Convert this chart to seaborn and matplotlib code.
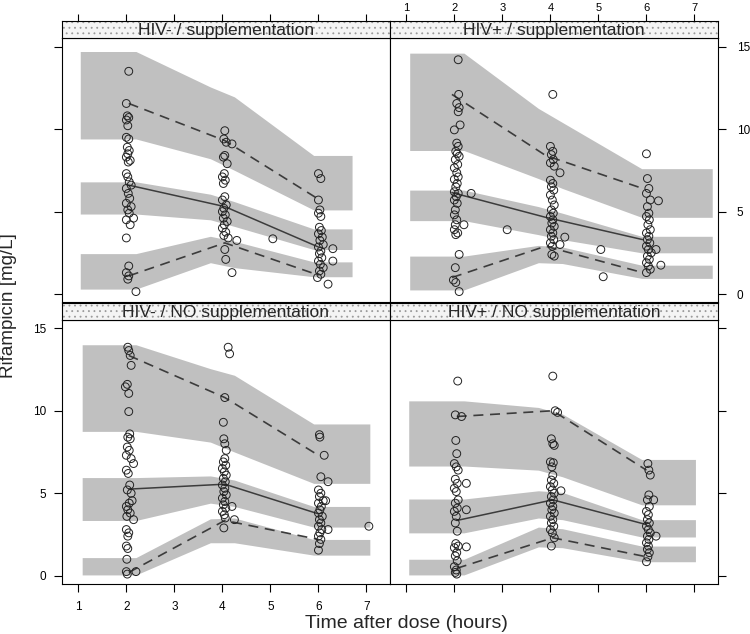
import numpy as np
import pandas as pd
import matplotlib
matplotlib.use("Agg")
import matplotlib.pyplot as plt
import seaborn as sns
from matplotlib.patches import Rectangle

sns.set_style("ticks")
plt.rcParams['font.family'] = ['Liberation Sans', 'DejaVu Sans']
plt.rcParams['hatch.linewidth'] = 0.6

titles = ["HIV- / supplementation", "HIV+ / supplementation",
          "HIV- / NO supplementation", "HIV+ / NO supplementation"]

# ---- observed concentrations (time after dose, rifampicin mg/L) ----
a_time = [2.05, 2.00, 2.02, 2.05, 2.00, 2.03, 2.00, 2.05, 2.02, 2.06,
          2.03, 2.00, 2.08, 2.04, 2.00, 2.03, 2.06, 2.10, 2.00, 2.04,
          2.07, 2.00, 2.10, 2.03, 2.06, 2.15, 2.00, 2.08, 2.00, 2.05,
          2.00, 2.05, 2.03, 2.20,
          4.05, 4.03, 4.08, 4.20, 4.05, 4.02, 4.10, 4.04, 4.00, 4.06,
          4.02, 4.05, 4.00, 4.08, 4.03, 4.00, 4.06, 4.02, 4.10, 4.04,
          4.00, 4.07, 4.03, 4.12, 4.30, 4.05, 4.07, 4.20, 5.05,
          6.00, 6.05, 6.00, 6.03, 6.00, 6.05, 6.02, 6.06, 6.00, 6.08,
          6.03, 6.10, 6.00, 6.05, 6.02, 6.07, 6.00, 6.04, 6.10, 6.02,
          6.05, 5.98, 6.20, 6.30, 6.30]
a_conc = [13.5, 11.55, 10.8, 10.7, 10.55, 10.2, 9.5, 9.4, 8.9, 8.7,
          8.5, 8.3, 8.1, 8.0, 7.3, 7.1, 6.8, 6.6, 6.4, 6.1,
          5.8, 5.5, 5.3, 5.1, 4.9, 4.6, 4.5, 4.2, 3.4, 1.7,
          1.3, 1.1, 0.9, 0.15,
          9.9, 9.4, 9.2, 9.1, 8.4, 8.3, 7.9, 7.3, 7.1, 6.9,
          6.7, 5.9, 5.7, 5.4, 5.2, 5.0, 4.8, 4.6, 4.4, 4.2,
          4.0, 3.75, 3.55, 3.4, 3.25, 2.7, 2.1, 1.3, 3.35,
          7.3, 7.0, 5.7, 5.1, 4.9, 4.7, 4.05, 3.85, 3.65, 3.45,
          3.25, 3.0, 2.85, 2.6, 2.45, 2.2, 2.0, 1.8, 1.6, 1.4,
          1.2, 1.0, 0.6, 2.75, 2.0]

b_time = [2.08, 2.09, 2.05, 2.10, 2.08, 2.12, 2.00, 2.05, 2.08, 2.03,
          2.06, 2.10, 2.02, 2.07, 2.00, 2.05, 2.08, 2.00, 2.06, 2.03,
          2.00, 2.08, 2.04, 2.00, 2.06, 2.02, 2.00, 2.05, 2.02, 2.00,
          2.07, 2.03, 2.10, 2.02, 1.98, 2.03, 2.10, 2.35, 2.20,
          4.05, 4.00, 4.05, 4.02, 4.06, 4.00, 4.08, 4.20, 4.00, 4.05,
          4.02, 4.07, 4.00, 4.04, 4.08, 4.02, 4.06, 4.00, 4.05, 4.03,
          4.08, 4.00, 4.05, 4.02, 4.07, 4.00, 4.04, 4.03, 4.08, 4.30,
          4.20, 3.10, 5.05, 5.10,
          6.00, 6.02, 6.05, 6.00, 6.08, 6.02, 6.05, 6.00, 6.06, 6.03,
          6.08, 6.00, 6.05, 6.02, 6.07, 6.00, 6.04, 6.10, 6.02, 6.06,
          6.00, 6.04, 6.08, 6.00, 6.25, 6.30, 6.20]
b_conc = [14.2, 12.1, 11.55, 11.3, 11.05, 10.25, 9.95, 9.15, 8.95, 8.65,
          8.5, 8.35, 8.15, 7.85, 7.65, 7.35, 7.1, 6.95, 6.7, 6.5,
          6.2, 6.1, 5.9, 5.7, 5.5, 5.1, 4.8, 4.5, 4.2, 3.9,
          3.7, 3.6, 2.4, 1.6, 0.85, 0.7, 0.15, 6.1, 4.2,
          12.1, 8.95, 8.65, 8.45, 8.15, 7.95, 7.75, 7.35, 6.9, 6.7,
          6.5, 6.3, 6.0, 5.7, 5.4, 5.1, 4.9, 4.7, 4.5, 4.3,
          4.1, 3.9, 3.7, 3.5, 3.3, 3.1, 2.9, 2.4, 2.3, 3.45,
          3.0, 3.9, 2.7, 1.05,
          8.5, 7.0, 6.4, 6.1, 5.7, 5.3, 4.9, 4.7, 4.5, 4.2,
          3.9, 3.7, 3.5, 3.3, 3.1, 2.9, 2.7, 2.5, 2.3, 2.1,
          1.9, 1.7, 1.5, 1.3, 5.65, 1.75, 2.7]

c_time = [2.03, 2.05, 2.08, 2.10, 2.02, 1.98, 2.05, 2.05, 2.07, 2.03,
          2.08, 2.02, 2.06, 2.00, 2.10, 2.15, 2.00, 2.04, 2.07, 2.02,
          2.10, 2.12, 2.06, 2.00, 2.03, 2.08, 2.01, 2.15, 2.00, 2.05,
          2.03, 2.00, 2.03, 2.01, 2.00, 2.02, 2.20,
          4.12, 4.15, 4.05, 4.02, 4.03, 4.05, 4.08, 4.05, 4.02, 4.07,
          4.00, 4.04, 4.08, 4.02, 4.06, 4.00, 4.05, 4.03, 4.08, 4.00,
          4.05, 4.02, 4.07, 4.00, 4.04, 4.06, 4.03, 4.20, 4.25,
          6.02, 6.03, 6.12, 6.05, 6.20, 6.00, 6.05, 6.02, 6.15, 6.00,
          6.06, 6.03, 6.00, 6.08, 6.02, 6.05, 6.00, 6.07, 6.03, 6.00,
          6.05, 6.02, 6.00, 6.20, 6.10, 7.05]
c_conc = [13.85, 13.65, 13.35, 12.75, 11.6, 11.45, 11.05, 9.95, 8.6, 8.4,
          8.3, 7.8, 7.6, 7.3, 7.1, 6.8, 6.4, 6.2, 5.5, 5.2,
          5.0, 4.55, 4.4, 4.2, 4.0, 3.8, 3.6, 3.4, 2.8, 2.6,
          2.4, 1.8, 1.65, 1.0, 0.25, 0.1, 0.25,
          13.85, 13.45, 10.8, 9.3, 8.3, 8.0, 7.6, 7.1, 6.9, 6.7,
          6.5, 6.3, 6.1, 5.9, 5.7, 5.5, 5.3, 5.1, 4.9, 4.7,
          4.5, 4.3, 4.1, 3.9, 3.7, 3.5, 2.9, 4.2, 3.4,
          8.55, 8.4, 7.3, 6.0, 5.7, 5.2, 5.0, 4.8, 4.55, 4.4,
          4.2, 4.0, 3.8, 3.6, 3.4, 3.2, 3.0, 2.8, 2.6, 2.4,
          2.2, 1.95, 1.55, 2.8, 4.55, 3.0]

d_time = [2.07, 2.02, 2.15, 2.03, 2.05, 2.00, 2.04, 2.08, 2.02, 2.06,
          2.00, 2.04, 2.08, 2.02, 2.06, 2.00, 2.04, 2.02, 2.06, 2.03,
          2.08, 2.00, 2.05, 2.02, 2.06, 2.00, 2.04, 2.02, 2.05, 2.25,
          2.25, 2.25,
          4.05, 4.10, 4.15, 4.02, 4.05, 4.08, 4.00, 4.06, 4.03, 4.05,
          4.02, 4.07, 4.00, 4.04, 4.08, 4.02, 4.06, 4.00, 4.05, 4.03,
          4.08, 4.00, 4.05, 4.02, 4.07, 4.00, 4.04, 4.08, 4.02, 4.22,
          6.03, 6.05, 6.08, 6.05, 6.02, 6.06, 6.00, 6.04, 6.02, 6.06,
          6.00, 6.04, 6.08, 6.02, 6.05, 6.00, 6.04, 6.02, 6.06, 6.03,
          6.00, 6.20, 6.15]
d_conc = [11.8, 9.75, 9.65, 8.2, 7.4, 6.8, 6.6, 6.4, 5.85, 5.6,
          5.3, 5.1, 4.6, 4.4, 4.1, 3.9, 3.6, 3.2, 2.7, 1.95,
          1.8, 1.7, 1.4, 1.2, 0.9, 0.55, 0.35, 0.2, 0.1, 5.6,
          4.0, 1.75,
          12.1, 10.0, 9.9, 8.3, 8.0, 7.9, 6.9, 6.85, 6.6, 6.1,
          5.8, 5.6, 5.4, 5.2, 5.0, 4.8, 4.6, 4.4, 4.2, 4.0,
          3.8, 3.6, 3.4, 3.2, 3.0, 2.8, 2.6, 2.3, 1.8, 5.15,
          6.8, 6.4, 6.1, 4.9, 4.6, 4.2, 3.9, 3.7, 3.4, 3.2,
          3.0, 2.8, 2.6, 2.4, 2.2, 2.0, 1.8, 1.6, 1.4, 1.15,
          0.85, 2.4, 4.6]

# ---- simulated prediction intervals (lower, upper) at band_x ----
band_x = [2.2, 3.75, 4.25, 5.9]
a_bands = {"hi": ([9.4, 8.2, 7.5, 5.1], [14.7, 12.55, 11.95, 8.4]),
           "med": ([4.85, 4.5, 4.1, 2.7], [6.8, 6.05, 5.6, 3.95]),
           "lo": ([0.3, 1.9, 1.6, 1.05], [2.45, 3.5, 3.2, 1.95])}
b_bands = {"hi": ([8.7, 7.0, 6.4, 4.65], [14.6, 11.25, 10.4, 7.6]),
           "med": ([4.45, 3.6, 3.3, 2.5], [6.3, 5.3, 4.9, 3.5]),
           "lo": ([0.25, 1.9, 1.85, 0.95], [2.3, 2.95, 2.85, 1.75])}
c_bands = {"hi": ([8.75, 8.1, 7.5, 5.6], [14.0, 12.55, 12.15, 9.2]),
           "med": ([3.35, 4.4, 4.2, 2.95], [5.95, 6.05, 5.8, 4.2]),
           "lo": ([0.05, 2.0, 2.0, 1.25], [1.1, 3.45, 3.5, 2.2])}
d_bands = {"hi": ([6.65, 6.4, 6.0, 4.3], [10.6, 10.2, 9.8, 7.05]),
           "med": ([2.6, 3.5, 3.4, 2.35], [4.65, 5.15, 5.05, 3.4]),
           "lo": ([0.05, 1.75, 1.7, 0.85], [1.0, 2.95, 2.85, 1.8])}
band_range = [(1.04, 6.7), (1.07, 7.37), (1.08, 7.07), (1.05, 7.02)]

# ---- observed percentiles (5th, 50th, 95th) ----
a_pt = [2.05, 4.05, 6.0]
a_p05 = [1.1, 3.1, 1.15]
a_p50 = [6.6, 5.3, 2.85]
a_p95 = [11.55, 9.3, 5.75]
b_pt = [1.95, 3.9, 5.92]
b_p05 = [1.0, 2.9, 1.3]
b_p50 = [6.15, 4.65, 3.3]
b_p95 = [12.1, 8.4, 6.4]
c_pt = [2.05, 4.05, 6.0]
c_p05 = [0.2, 3.35, 2.2]
c_p50 = [5.25, 5.55, 3.75]
c_p95 = [13.35, 10.8, 7.3]
d_pt = [2.05, 4.05, 6.0]
d_p05 = [0.45, 2.3, 1.15]
d_p50 = [3.35, 4.6, 3.1]
d_p95 = [9.65, 10.0, 6.4]

panels = [
    (a_time, a_conc, a_bands, a_pt, a_p05, a_p50, a_p95),
    (b_time, b_conc, b_bands, b_pt, b_p05, b_p50, b_p95),
    (c_time, c_conc, c_bands, c_pt, c_p05, c_p50, c_p95),
    (d_time, d_conc, d_bands, d_pt, d_p05, d_p50, d_p95),
]

W, H = 750, 634
fig = plt.figure(figsize=(7.5, 6.34), dpi=100)


def px(x0, y0, w, h):
    return [x0 / W, 1 - (y0 + h) / H, w / W, h / H]


xlim = (0.66, 7.49)
ylim = (-0.5, 15.5)
col_x = [62, 390]
row_y = [38.3, 320]
strip_h = 17
band_col = "#c0c0c0"
line_col = "#3c3c3c"
tick_kw = dict(length=5.5, width=0.8, labelsize=8.5, colors="black")

for i, (t, c, bands, pt, p05, p50, p95) in enumerate(panels):
    col, row = i % 2, i // 2
    ax = fig.add_axes(px(col_x[col], row_y[row], 328, 264))
    sax = fig.add_axes(px(col_x[col], row_y[row] - strip_h, 328, strip_h))

    # prediction interval bands
    x0, x1 = band_range[i]
    xs = [x0] + band_x + [x1]
    for key in ["hi", "med", "lo"]:
        lo, up = bands[key]
        ax.fill_between(xs, [lo[0]] + lo + [lo[-1]], [up[0]] + up + [up[-1]],
                        color=band_col, lw=0, zorder=1)

    # observed percentiles
    sns.lineplot(x=pt, y=p50, ax=ax, color=line_col, lw=1.1,
                 estimator=None, sort=False, zorder=3)
    for p in (p05, p95):
        sns.lineplot(x=pt, y=p, ax=ax, color=line_col, lw=1.2,
                     estimator=None, sort=False, zorder=3)
        ax.lines[-1].set_dashes((6, 4))

    # observations
    df = pd.DataFrame({"time": t, "conc": c})
    sns.scatterplot(data=df, x="time", y="conc", ax=ax, s=32, zorder=4)
    pts = ax.collections[-1]
    pts.set_facecolor("none")
    pts.set_edgecolor("#222222")
    pts.set_linewidth(0.7)

    ax.set_xlim(xlim)
    ax.set_ylim(ylim)
    ax.set_xlabel("")
    ax.set_ylabel("")
    for s in ax.spines.values():
        s.set_visible(True)
        s.set_linewidth(0.8)
        s.set_color("black")

    ax.set_xticks(range(1, 8))
    ax.set_yticks([0, 5, 10, 15])
    ax.tick_params(axis="both", direction="out", **tick_kw)
    ax.tick_params(axis="x", top=False, labeltop=False,
                   bottom=(row == 1), labelbottom=(i == 2), pad=7)
    ax.tick_params(axis="y", left=(col == 0), labelleft=(i == 2), pad=6,
                   right=(col == 1), labelright=(i == 1))
    if i == 1:
        ax.tick_params(axis="y", pad=8)

    # strip
    sax.set_xlim(xlim)
    sax.set_ylim(0, 1)
    sax.add_patch(Rectangle((0, 0), 1, 1, transform=sax.transAxes,
                            facecolor="#f4f4f4", edgecolor="#9a9a9a",
                            hatch="...", lw=0, zorder=0))
    sax.text(0.5, 0.46, titles[i], transform=sax.transAxes, ha="center",
             va="center", fontsize=12.5, zorder=2)
    for s in sax.spines.values():
        s.set_visible(True)
        s.set_linewidth(0.8)
        s.set_color("black")
    sax.set_yticks([])
    sax.set_xticks(range(1, 8))
    sax.tick_params(axis="x", direction="out", bottom=False,
                    labelbottom=False, top=(row == 0),
                    labeltop=(i == 1), **tick_kw)
    sax.tick_params(axis="x", labelsize=8, pad=1.2, length=5)

fig.text(0.012, 1 - 306 / H, "Rifampicin [mg/L]", rotation=90,
         ha="center", va="center", fontsize=13.5)
fig.text(406 / W, 1 - 623 / H, "Time after dose (hours)",
         ha="center", va="center", fontsize=14)

fig.savefig("out.png", dpi=100)
